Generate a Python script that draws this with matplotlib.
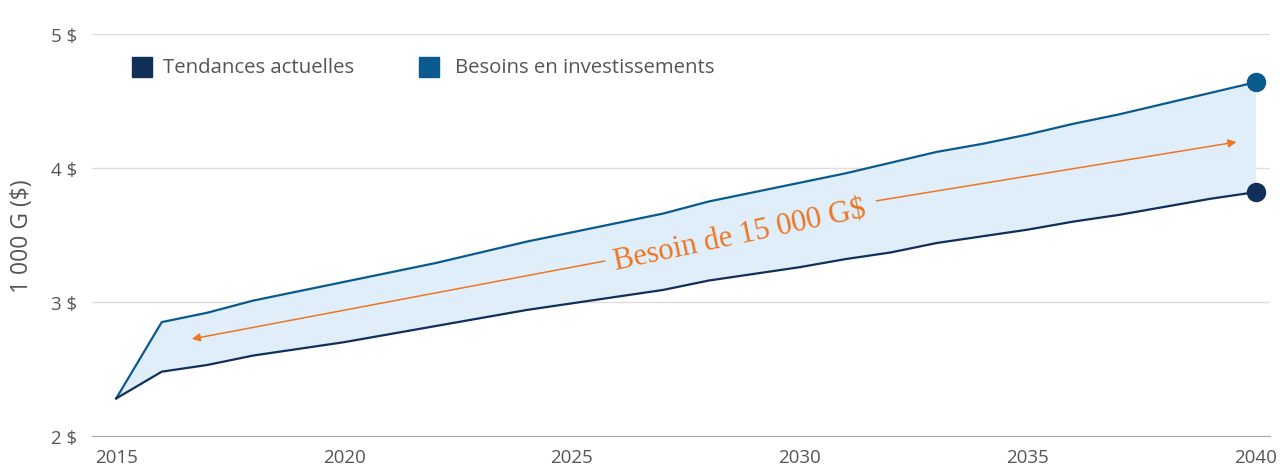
import matplotlib
matplotlib.use("Agg")
import matplotlib.pyplot as plt
import matplotlib.patches as mpatches

years = list(range(2015, 2041))
besoins = [2.28, 2.85, 2.92, 3.01, 3.08, 3.15, 3.22, 3.29, 3.37, 3.45, 3.52, 3.59, 3.66,
           3.75, 3.82, 3.89, 3.96, 4.04, 4.12, 4.18, 4.25, 4.33, 4.40, 4.48, 4.56, 4.64]
tendances = [2.28, 2.48, 2.53, 2.60, 2.65, 2.70, 2.76, 2.82, 2.88, 2.94, 2.99, 3.04, 3.09,
             3.16, 3.21, 3.26, 3.32, 3.37, 3.44, 3.49, 3.54, 3.60, 3.65, 3.71, 3.77, 3.82]
x_ticks = [2015, 2020, 2025, 2030, 2035, 2040]
y_ticks = [2, 3, 4, 5]
series_labels = ["Tendances actuelles", "Besoins en investissements"]
note = "Besoin de 15 000 G$"

NAVY = "#10305a"
BLUE = "#0a5a8e"
FILL = "#dfeef8"
ORANGE = "#ee7623"
GREY = "#555555"

plt.rcParams["font.family"] = ["Open Sans", "DejaVu Sans"]

fig = plt.figure(figsize=(12.8, 4.77), dpi=100)
ax = fig.add_axes([0.0719, 0.0839, 0.9201, 0.8427])

ax.fill_between(years, tendances, besoins, color=FILL, lw=0, zorder=1)
ax.plot(years, besoins, color=BLUE, lw=1.6, zorder=3)
ax.plot(years, tendances, color=NAVY, lw=1.6, zorder=3)
ax.plot(years[-1], besoins[-1], "o", color=BLUE, ms=13, zorder=4, clip_on=False)
ax.plot(years[-1], tendances[-1], "o", color=NAVY, ms=13, zorder=4, clip_on=False)

ax.set_xlim(2014.47, 2040.31)
ax.set_ylim(2, 5)
ax.set_xticks(x_ticks)
ax.set_yticks(y_ticks)
ax.set_yticklabels([f"{v} $" for v in y_ticks])
ax.tick_params(axis="both", length=0, labelsize=13.5, labelcolor=GREY)
ax.tick_params(axis="y", pad=11)
ax.tick_params(axis="x", pad=9)
ax.grid(axis="y", color="#dddddd", lw=1)
ax.set_axisbelow(True)
for side in ["top", "right", "left"]:
    ax.spines[side].set_visible(False)
ax.spines["bottom"].set_color("#aaaaaa")
ax.spines["bottom"].set_zorder(0)
ax.set_ylabel("1 000 G ($)", fontsize=16.5, color=GREY, labelpad=12)

# arrow split around the label
arrow = dict(arrowstyle="-|>", color=ORANGE, lw=1.1, mutation_scale=12,
             shrinkA=0, shrinkB=0)
ax.annotate("", xy=(2016.66, 2.724), xytext=(2025.72, 3.306), arrowprops=arrow, zorder=5)
ax.annotate("", xy=(2039.58, 4.194), xytext=(2031.68, 3.755), arrowprops=arrow, zorder=5)
ax.text(2028.68, 3.50, note, rotation=12, rotation_mode="anchor", ha="center",
        va="center", fontsize=22, color=ORANGE, family="Liberation Serif", zorder=5)

# legend drawn by hand
for (x0, tx), lab, col in zip([(132, 163), (419, 455)], series_labels, [NAVY, BLUE]):
    fig.patches.append(mpatches.Rectangle((x0 / 1280, 1 - 78 / 477), 20 / 1280, 20 / 477,
                                          transform=fig.transFigure, color=col))
    fig.text(tx / 1280, 1 - 68 / 477, lab, fontsize=14.7, color=GREY, va="center")

fig.savefig("out.png", dpi=100)
